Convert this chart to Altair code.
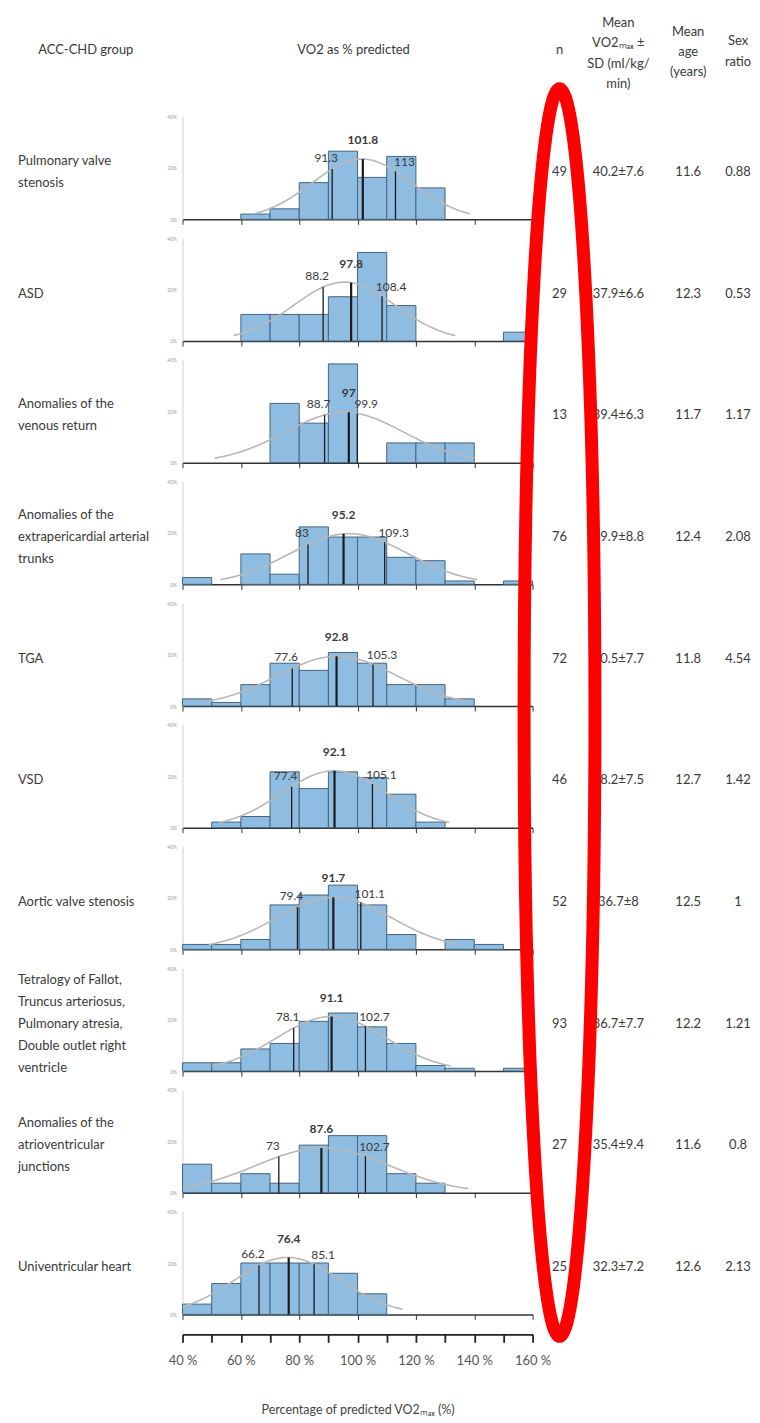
import altair as alt
import pandas as pd

# ---------------- data ----------------
groups = [
    "Pulmonary valve\nstenosis",
    "ASD",
    "Anomalies of the\nvenous return",
    "Anomalies of the\nextrapericardial arterial\ntrunks",
    "TGA",
    "VSD",
    "Aortic valve stenosis",
    "Tetralogy of Fallot,\nTruncus arteriosus,\nPulmonary atresia,\nDouble outlet right\nventricle",
    "Anomalies of the\natrioventricular\njunctions",
    "Univentricular heart",
]
n_vals = [49, 29, 13, 76, 72, 46, 52, 93, 27, 25]
mean_sd = ["40.2±7.6", "37.9±6.6", "39.4±6.3", "39.9±8.8", "40.5±7.7",
           "38.2±7.5", "36.7±8", "36.7±7.7", "35.4±9.4", "32.3±7.2"]
mean_age = ["11.6", "12.3", "11.7", "12.4", "11.8", "12.7", "12.5", "12.2", "11.6", "12.6"]
sex_ratio = ["0.88", "0.53", "1.17", "2.08", "4.54", "1.42", "1", "1.21", "0.8", "2.13"]

q1_vals = [91.3, 88.2, 88.7, 83, 77.6, 77.4, 79.4, 78.1, 73, 66.2]
median_vals = [101.8, 97.8, 97, 95.2, 92.8, 92.1, 91.7, 91.1, 87.6, 76.4]
q3_vals = [113, 108.4, 99.9, 109.3, 105.3, 105.1, 101.1, 102.7, 102.7, 85.1]

# histogram bins: 40-50, 50-60, ..., 150-160 (counts of patients)
bin_starts = [40, 50, 60, 70, 80, 90, 100, 110, 120, 130, 140, 150]
bin_counts = [
    [0, 0, 1, 2, 7, 13, 8, 12, 6, 0, 0, 0],
    [0, 0, 3, 3, 3, 5, 10, 4, 0, 0, 0, 1],
    [0, 0, 0, 3, 2, 5, 0, 1, 1, 1, 0, 0],
    [2, 0, 9, 3, 17, 14, 14, 8, 7, 1, 0, 1],
    [2, 1, 6, 12, 10, 15, 12, 6, 6, 2, 0, 0],
    [0, 1, 2, 10, 7, 10, 9, 6, 1, 0, 0, 0],
    [1, 1, 2, 9, 11, 13, 9, 3, 0, 2, 1, 0],
    [3, 3, 8, 10, 18, 21, 16, 10, 2, 1, 0, 1],
    [3, 1, 2, 1, 5, 6, 6, 2, 1, 0, 0, 0],
    [1, 3, 5, 5, 5, 4, 2, 0, 0, 0, 0, 0],
]
# fitted normal curve parameters (VO2 % predicted)
curve_mean = [101.5, 95.5, 95.5, 97, 93, 92, 92, 91, 88, 76]
curve_sd = [17.0, 17.4, 20.3, 20.2, 20.6, 18.0, 19.7, 18.8, 22.9, 18.0]

x_ticks = [40, 50, 60, 70, 80, 90, 100, 110, 120, 130, 140, 150, 160]
y_ticks = [0, 10, 20, 30, 40]

header_group = "ACC-CHD group"
header_hist = "VO2 as % predicted"
header_cols = ["n", "Mean\nVO2ₘₐₓ ±\nSD (ml/kg/\nmin)", "Mean\nage\n(years)", "Sex\nratio"]
x_title = "Percentage of predicted VO2ₘₐₓ (%)"

# ---------------- style ----------------
FONT = "Lato"
TXT = "#3a3a3a"
BAR_FILL = "#8fbde2"
BAR_STROKE = "#44637e"
PANEL_W = 351
PANEL_H = 103
HDR_H = 88
GAP = 19
LEFT_W = 165
COL_W = [54, 64, 76, 24]
HDR_LH = [20, 20.5, 20, 21]
HDR_DY = [-3.5, -31, -22, -13]
ROW_DY = 4
LABEL_LH = 22

xs = alt.Scale(domain=[40, 160], nice=False, zero=False)
ys = alt.Scale(domain=[0, 40], nice=False, zero=True)


def fmt(v):
    return f"{v:g}"


def text_cell(txt, width, height, align="center", dy=0, lh=20, x0=False, dx=0):
    df = pd.DataFrame({"v": [txt]})
    enc = {"text": "t:N"}
    if x0:
        enc["x"] = alt.value(0)
    return alt.Chart(df).transform_calculate(t="split(datum.v, '\\n')").mark_text(
        font=FONT, fontSize=13, color=TXT, align=align, baseline="middle",
        lineHeight=lh, dy=dy, dx=dx
    ).encode(**enc).properties(width=width, height=height)


def panel(i):
    m, s = curve_mean[i], curve_sd[i]
    n = n_vals[i]
    bdf = pd.DataFrame({
        "b0": bin_starts,
        "b1": [b + 10 for b in bin_starts],
        "pct": [c / n * 100 for c in bin_counts[i]],
    })
    bdf = bdf[bdf["pct"] > 0]
    qdf = pd.DataFrame({
        "q": [q1_vals[i], median_vals[i], q3_vals[i]],
        "kind": ["q1", "med", "q3"],
        "label": [fmt(q1_vals[i]), fmt(median_vals[i]), fmt(q3_vals[i])],
    })
    xaxis = alt.Axis(values=x_ticks, labels=False, title=None, grid=False,
                     domainColor="#333333", domainWidth=1.5, tickColor="#333333",
                     tickWidth=1, tickSize=5)
    yaxis = alt.Axis(values=y_ticks, labelExpr="datum.value + '%'", labelFontSize=5,
                     labelColor="#9a9a9a", domainColor="#d0d0d0", ticks=False,
                     labelPadding=6, title=None, grid=False)
    bars = alt.Chart(bdf).mark_bar(fill=BAR_FILL, stroke=BAR_STROKE, strokeWidth=1).encode(
        x=alt.X("b0:Q", scale=xs, axis=xaxis),
        x2="b1:Q",
        y=alt.Y("pct:Q", scale=ys, axis=yaxis),
        y2=alt.datum(0),
    )
    curve = alt.Chart(alt.sequence(40, 160.25, 0.5, as_="x")).transform_calculate(
        y=f"1000*densityNormal(datum.x, {m}, {s})"
    ).transform_filter(
        f"abs(datum.x - {m}) <= {2.2 * s}"
    ).mark_line(color="#b8b8b8", strokeWidth=1.6, clip=True).encode(
        x=alt.X("x:Q", scale=xs), y=alt.Y("y:Q", scale=ys)
    )
    base_q = alt.Chart(qdf).transform_calculate(
        yv=f"1000*densityNormal(datum.q, {m}, {s})"
    )
    rules = base_q.mark_rule(color="#1a1a1a").encode(
        x=alt.X("q:Q", scale=xs),
        y=alt.Y("yv:Q", scale=ys),
        y2=alt.datum(0),
        strokeWidth=alt.condition("datum.kind == 'med'", alt.value(2.2), alt.value(1.3)),
    )
    layers = [bars, curve, rules]
    for kind, dx, dy, weight in [("q1", -6, -4, "normal"), ("med", 0, -12, "bold"), ("q3", 9, -2, "normal")]:
        layers.append(
            base_q.transform_filter(f"datum.kind == '{kind}'").mark_text(
                font=FONT, fontSize=12, fontWeight=weight, color=TXT,
                baseline="bottom", align="center", dx=dx, dy=dy,
            ).encode(x=alt.X("q:Q", scale=xs), y=alt.Y("yv:Q", scale=ys), text="label:N")
        )
    return alt.layer(*layers).properties(width=PANEL_W, height=PANEL_H)


cells = []
# header row
cells.append(text_cell(header_group, LEFT_W, HDR_H, align="center", dy=-3.5, x0=True, dx=68))
cells.append(text_cell(header_hist, PANEL_W, HDR_H, dy=-3.5, dx=-4))
for j in range(4):
    cells.append(text_cell(header_cols[j], COL_W[j], HDR_H, dy=HDR_DY[j], lh=HDR_LH[j]))

# data rows
for i in range(10):
    nl = groups[i].count("\n") + 1
    cells.append(text_cell(groups[i], LEFT_W, PANEL_H, align="left",
                           dy=ROW_DY - (nl - 1) * LABEL_LH / 2, lh=LABEL_LH, x0=True))
    cells.append(panel(i))
    row_vals = [str(n_vals[i]), mean_sd[i], mean_age[i], sex_ratio[i]]
    for j in range(4):
        cells.append(text_cell(row_vals[j], COL_W[j], PANEL_H, dy=ROW_DY))

# bottom axis row
bottom_axis = alt.Chart(pd.DataFrame({"v": x_ticks})).mark_point(opacity=0).encode(
    x=alt.X("v:Q", scale=xs, axis=alt.Axis(
        values=x_ticks,
        labelExpr="datum.value % 20 == 0 ? datum.value + ' %' : ''",
        labelFont=FONT, labelFontSize=13, labelColor="#555555", labelPadding=12,
        labelOverlap=False, labelFlush=False,
        domainColor="#222222", domainWidth=1.8, tickColor="#222222", tickWidth=1.8,
        tickSize=8, grid=False,
        title=x_title, titleFont=FONT, titleFontSize=12.5,
        titleFontWeight="normal", titleColor="#444444", titlePadding=36,
    ))
).properties(width=PANEL_W, height=1)

# red ellipse annotation around the n column (drawn last, on top)
a, k = 0.0568, 0.5523
ak = a * k
ellipse_path = (
    f"M 0 -1 C {ak:.5f} -1 {a} {-k} {a} 0 "
    f"C {a} {k} {ak:.5f} 1 0 1 "
    f"C {-ak:.5f} 1 {-a} {k} {-a} 0 "
    f"C {-a} {-k} {-ak:.5f} -1 0 -1 Z"
)
axis_top = HDR_H + GAP + 10 * (PANEL_H + GAP)
ellipse = alt.Chart(pd.DataFrame({"e": [0]})).mark_point(
    shape=ellipse_path, size=1251 ** 2, filled=False, stroke="#ff0000",
    strokeWidth=13, opacity=1
).encode(y=alt.value(704.5 - axis_top)).properties(width=COL_W[0], height=1)

cells.append(text_cell("", LEFT_W, 1))
cells.append(bottom_axis)
cells.append(ellipse)
for j in range(1, 4):
    cells.append(text_cell("", COL_W[j], 1))

chart = alt.concat(*cells, columns=6, spacing={"row": GAP, "column": 0}, bounds="flush").properties(
    padding={"left": 10, "top": 0, "right": 0, "bottom": 0}
).configure_view(stroke=None).configure_axis(labelFont=FONT, titleFont=FONT)

chart.save("out.html", embed_options={"renderer": "svg", "actions": False})
